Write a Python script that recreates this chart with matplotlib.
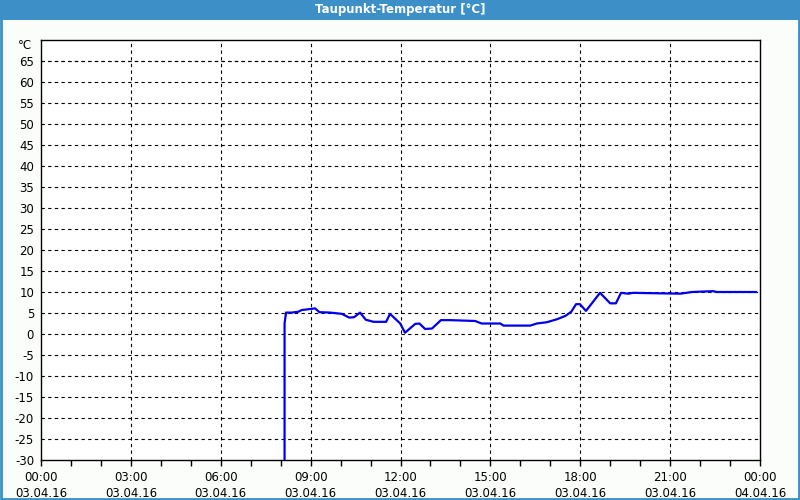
import matplotlib
matplotlib.use("Agg")
import matplotlib.pyplot as plt
from matplotlib.patches import Rectangle

# hours since 03.04.16 00:00 and dew point in °C
hours = [8.13, 8.13, 8.18, 8.37, 8.59, 8.70, 9.15, 9.29, 9.65, 10.04, 10.29, 10.45,
         10.65, 10.84, 11.10, 11.52, 11.65, 11.99, 12.15, 12.49, 12.63, 12.82, 13.05,
         13.35, 13.66, 14.49, 14.71, 15.33, 15.44, 16.33, 16.55, 16.88, 17.22, 17.50,
         17.70, 17.86, 17.99, 18.19, 18.66, 19.00, 19.19, 19.36, 19.61, 19.76, 20.53,
         21.34, 21.73, 22.43, 22.56, 23.87]
dewpoint = [-35.0, 2.5, 5.1, 5.1, 5.3, 5.7, 6.1, 5.2, 5.1, 4.8, 3.9, 4.0,
            5.1, 3.4, 2.9, 2.9, 4.8, 2.5, 0.3, 2.4, 2.5, 1.2, 1.3,
            3.3, 3.3, 3.1, 2.5, 2.5, 2.0, 2.0, 2.5, 2.8, 3.5, 4.3,
            5.3, 7.1, 7.1, 5.5, 9.8, 7.3, 7.3, 9.8, 9.6, 9.8, 9.7,
            9.6, 10.0, 10.2, 10.0, 10.0]

xticks = [0, 3, 6, 9, 12, 15, 18, 21, 24]
xlabels = ["00:00\n03.04.16", "03:00\n03.04.16", "06:00\n03.04.16", "09:00\n03.04.16",
           "12:00\n03.04.16", "15:00\n03.04.16", "18:00\n03.04.16", "21:00\n03.04.16",
           "00:00\n04.04.16"]
yticks = list(range(-30, 70, 5))

bar_blue = "#3c90c7"

fig = plt.figure(figsize=(8, 5), dpi=100)
fig.patch.set_facecolor("#fbfdfb")
# title bar and frame
fig.patches.append(Rectangle((0, 0.96), 1, 0.04, transform=fig.transFigure,
                             facecolor=bar_blue, edgecolor="none", zorder=0))
fig.patches.append(Rectangle((0.001, 0.002), 0.998, 0.997, transform=fig.transFigure,
                             facecolor="none", edgecolor=bar_blue, linewidth=2, zorder=5))
fig.text(0.5, 0.98, "Taupunkt-Temperatur [°C]", color="white", ha="center", va="center",
         fontsize=8.5, fontweight="bold")

ax = fig.add_axes([0.05125, 0.08, 0.89875, 0.84])
ax.set_facecolor("white")
ax.plot(hours, dewpoint, color="#0000ee", linewidth=1.6, zorder=3)

ax.set_xlim(0, 24)
ax.set_ylim(-30, 70)
ax.set_xticks(xticks)
ax.set_xticklabels(xlabels, fontsize=8.5, linespacing=1.3)
ax.set_xticks(range(0, 25), minor=True)
ax.set_yticks(yticks)
ax.set_yticklabels([str(v) for v in yticks], fontsize=8.5)
ax.tick_params(axis="y", length=0, pad=5)
ax.tick_params(axis="x", which="both", direction="out", length=4, width=1, pad=4)
ax.text(-0.012, 68.8, "°C", transform=ax.get_yaxis_transform(), ha="right", va="center",
        fontsize=8.5)

for v in yticks[1:] + [65]:
    ax.axhline(v, color="black", linestyle=(0, (3, 3)), linewidth=0.8, zorder=1)
for h in xticks[1:-1]:
    ax.axvline(h, color="black", linestyle=(0, (3, 3)), linewidth=0.8, zorder=1)

for s in ax.spines.values():
    s.set_color("black")
    s.set_linewidth(1)

fig.savefig("out.png", dpi=100, facecolor=fig.get_facecolor())
